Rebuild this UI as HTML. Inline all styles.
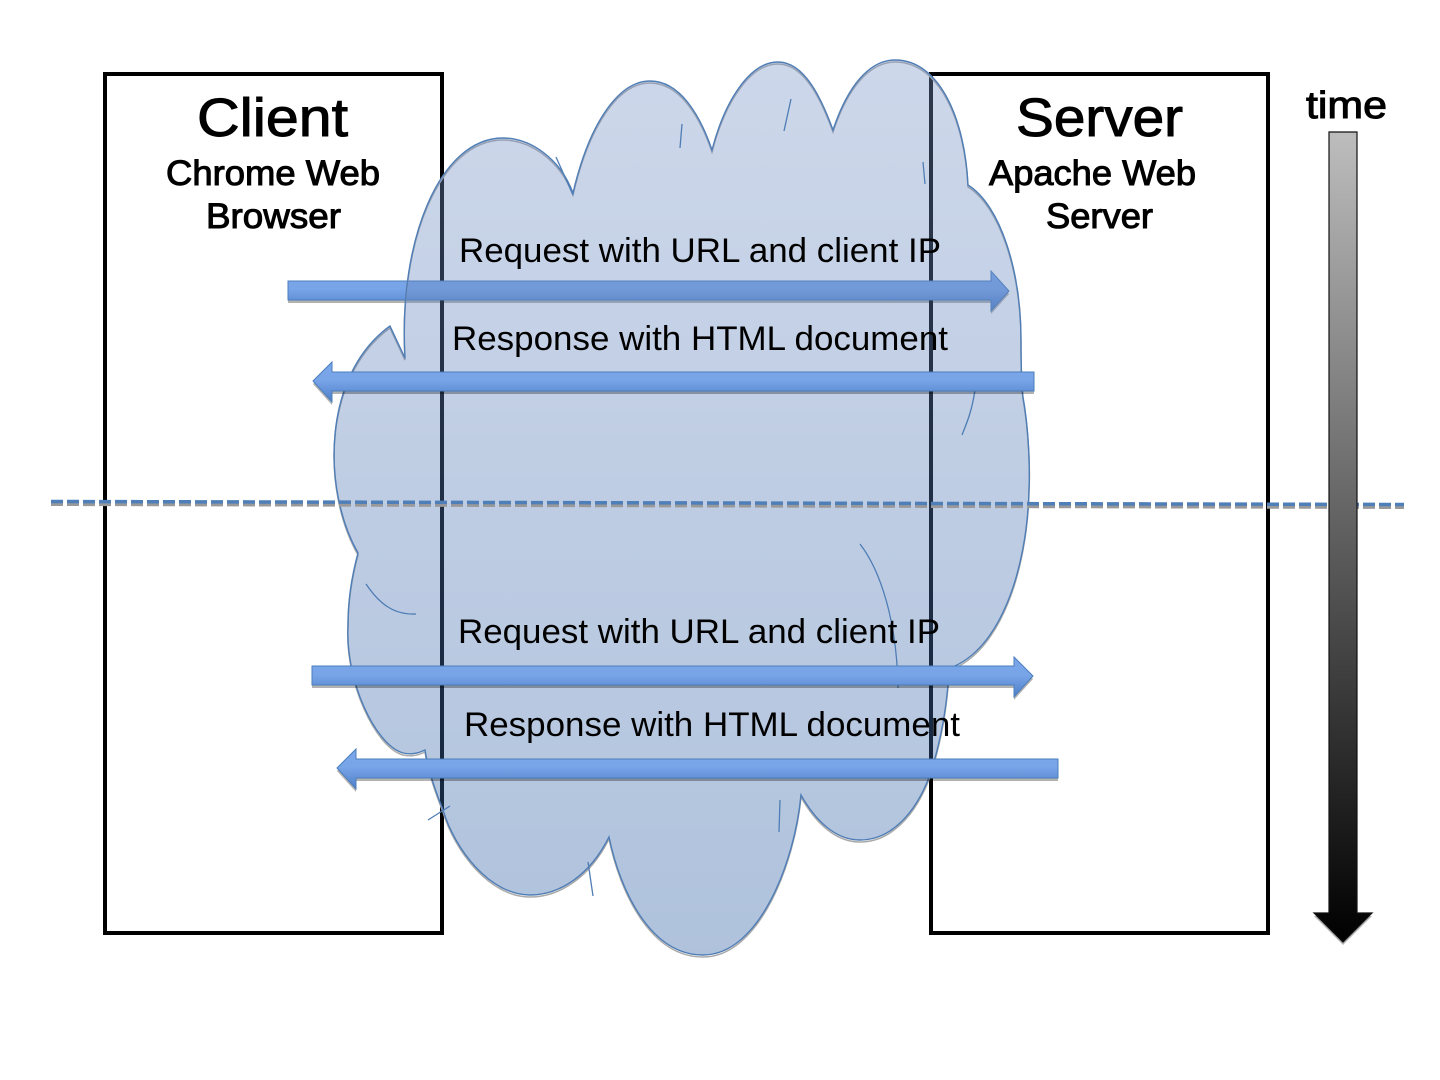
<!DOCTYPE html>
<html>
<head>
<meta charset="utf-8">
<style>
html,body{margin:0;padding:0;background:#fff;width:1440px;height:1080px;overflow:hidden}
svg{display:block}
text{font-family:"Liberation Sans",sans-serif;fill:#000}
.b{stroke:#000;stroke-width:1px}
</style>
</head>
<body>
<svg width="1440" height="1080" viewBox="0 0 1440 1080" xmlns="http://www.w3.org/2000/svg">
<defs>
<linearGradient id="cg" gradientUnits="userSpaceOnUse" x1="0" y1="60" x2="0" y2="956">
<stop offset="0" stop-color="#7c96c8"/><stop offset="1" stop-color="#2d5fa3"/>
</linearGradient>
<linearGradient id="ag" x1="0" y1="0" x2="0" y2="1">
<stop offset="0" stop-color="#7ba6ea"/><stop offset=".45" stop-color="#78a4e8"/><stop offset="1" stop-color="#4f7fc8"/>
</linearGradient>
<linearGradient id="tg" gradientUnits="userSpaceOnUse" x1="0" y1="132" x2="0" y2="942">
<stop offset="0" stop-color="#bdbdbd"/><stop offset="1" stop-color="#000"/>
</linearGradient>
<path id="cloud" d="M358,553 C322,490 322,375 390,326 L405,358 C398,240 440,138 503,138 C530,138 560,158 573,193 C590,120 620,81 650,81 C680,81 700,115 712,150 C725,100 750,62 778,62 C805,62 822,100 833,130 C848,85 870,60 895,60 C940,60 965,120 968,185 C1000,205 1021,270 1021,340 C1021,360 1021,380 1023,397 C1029,430 1030,470 1029,490 C1027,570 1000,650 950,668 L948,685 C945,720 938,750 930,775 C915,815 890,840 860,840 C835,840 815,820 801,795 C795,860 760,955 703,955 C650,955 620,890 609,837 C590,875 560,895 530,895 C490,895 455,850 443,810 C435,790 428,770 425,750 C415,755 408,754 403,753 C375,745 345,680 348,625 C348,600 352,575 358,553 Z"/>
</defs>
<rect width="1440" height="1080" fill="#fff"/>

<rect x="105" y="74" width="337" height="859" fill="#fff" stroke="#000" stroke-width="4"/>
<rect x="931" y="74" width="337" height="859" fill="#fff" stroke="#000" stroke-width="4"/>

<!-- Arrow 1, beneath cloud -->
<path d="M288,284 H991 V274 L1009,294 L991,314 V303 H288 Z" fill="#000" opacity=".3"/>
<path d="M288,281 H991 V271 L1009,291 L991,311 V300 H288 Z" fill="url(#ag)" stroke="#4a7ebb" stroke-width="1"/>

<!-- Cloud -->
<use href="#cloud" fill="none" stroke="#aaa" stroke-width="1.5" transform="translate(0,2)"/>
<use href="#cloud" fill="url(#cg)" fill-opacity=".38" stroke="#4f7db5" stroke-width="1.4"/>
<g fill="none" stroke="#4f7db5" stroke-width="1.3">
<path d="M682,124 L680,148"/>
<path d="M791,99 L784,131"/>
<path d="M923,162 L925,184"/>
<path d="M556,157 L573,195"/>
<path d="M366,584 C380,605 395,615 416,614"/>
<path d="M860,544 C880,570 897,620 898,688"/>
<path d="M975,390 C972,410 968,420 962,435"/>
<path d="M780,800 L779,832"/>
<path d="M588,862 L593,896"/>
<path d="M428,820 L450,806"/>
</g>

<!-- Dashed separator -->
<line x1="51" y1="504" x2="1404" y2="507" stroke="#999" stroke-width="4" stroke-dasharray="12 4"/>
<line x1="51" y1="501.5" x2="1404" y2="504.5" stroke="#4f7fb8" stroke-width="3.5" stroke-dasharray="12 4"/>

<!-- Other arrows -->
<path d="M313,384 L332,365 V375 H1034 V394 H332 V405 Z" fill="#000" opacity=".3"/>
<path d="M313,381 L332,362 V372 H1034 V391 H332 V402 Z" fill="url(#ag)" stroke="#4a7ebb" stroke-width="1"/>
<path d="M312,669 H1014 V660 L1033,679 L1014,700 V688 H312 Z" fill="#000" opacity=".3"/>
<path d="M312,666 H1014 V657 L1033,676 L1014,697 V685 H312 Z" fill="url(#ag)" stroke="#4a7ebb" stroke-width="1"/>
<path d="M337,771 L356,752 V762 H1058 V781 H356 V792 Z" fill="#000" opacity=".3"/>
<path d="M337,768 L356,749 V759 H1058 V778 H356 V789 Z" fill="url(#ag)" stroke="#4a7ebb" stroke-width="1"/>

<!-- Time arrow -->
<path d="M1329,916 H1314 L1343,945 L1372,916 H1357 Z" fill="#000" opacity=".3"/>
<path d="M1329,132 H1357 V913 H1372 L1343,942 L1314,913 H1329 Z" fill="url(#tg)" stroke="#111" stroke-width="1.2"/>

<!-- Labels -->
<text class="b" x="197" y="136" font-size="54" textLength="151" lengthAdjust="spacingAndGlyphs">Client</text>
<text class="b" x="166" y="185" font-size="35" textLength="214" lengthAdjust="spacingAndGlyphs">Chrome Web</text>
<text class="b" x="206" y="228" font-size="35" textLength="135" lengthAdjust="spacingAndGlyphs">Browser</text>
<text class="b" x="1016" y="136" font-size="54" textLength="167" lengthAdjust="spacingAndGlyphs">Server</text>
<text class="b" x="989" y="185" font-size="35" textLength="207" lengthAdjust="spacingAndGlyphs">Apache Web</text>
<text class="b" x="1046" y="228" font-size="35" textLength="107" lengthAdjust="spacingAndGlyphs">Server</text>
<text class="b" x="1306" y="118" font-size="38" textLength="81" lengthAdjust="spacingAndGlyphs">time</text>

<text x="459" y="262" font-size="34" textLength="482" lengthAdjust="spacingAndGlyphs">Request with URL and client IP</text>
<text x="452" y="350" font-size="34" textLength="496" lengthAdjust="spacingAndGlyphs">Response with HTML document</text>
<text x="458" y="643" font-size="34" textLength="482" lengthAdjust="spacingAndGlyphs">Request with URL and client IP</text>
<text x="464" y="736" font-size="34" textLength="496" lengthAdjust="spacingAndGlyphs">Response with HTML document</text>
</svg>
</body>
</html>
